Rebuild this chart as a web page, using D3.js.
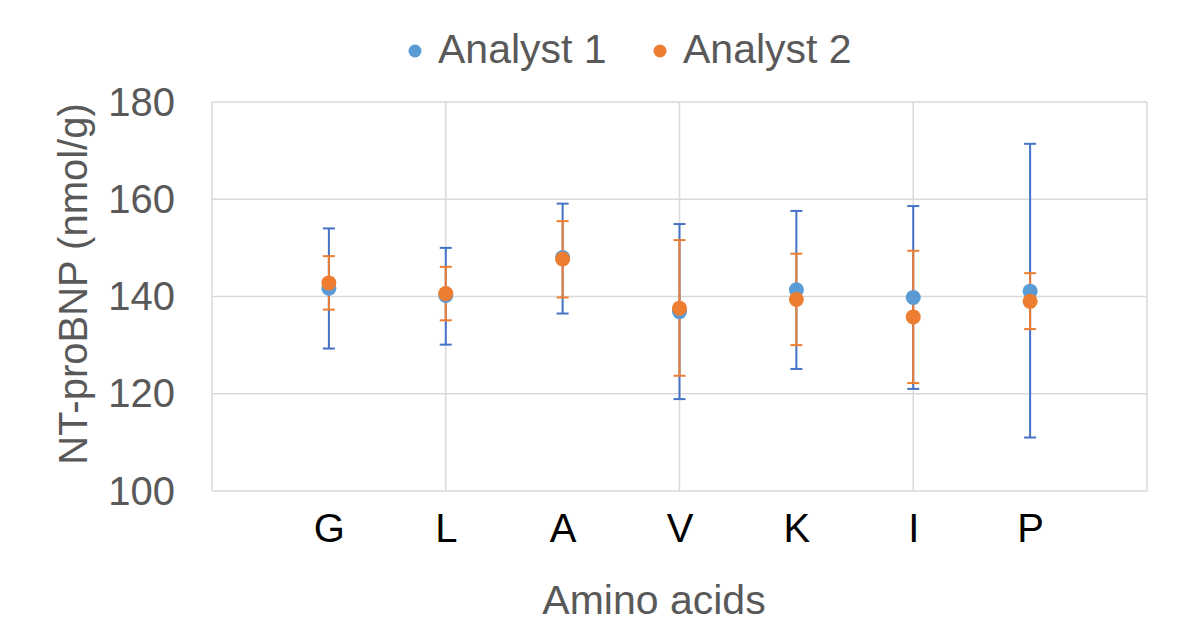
<!DOCTYPE html>
<html lang="en">
<head>
    <meta charset="UTF-8">
    <title>NT-proBNP by amino acid</title>
    <script src="https://d3js.org/d3.v7.min.js"></script>
    <style>
        body { margin: 0; background: #fff; }
        text { font-family: "Liberation Sans", Arial, sans-serif; }
    </style>
</head>
<body>
    <script>
        const categories = ["G", "L", "A", "V", "K", "I", "P"];
        const seriesNames = ["Analyst 1", "Analyst 2"];
        // mean values
        const analyst1 = [141.7, 140.2, 148.0, 136.9, 141.4, 139.8, 141.1];
        const analyst2 = [142.8, 140.6, 147.7, 137.6, 139.4, 135.8, 139.0];
        // error bar ends (low / high)
        const analyst1Low  = [129.3, 130.1, 136.5, 118.9, 125.1, 121.0, 111.0];
        const analyst1High = [154.0, 150.0, 159.1, 154.9, 157.6, 158.6, 171.4];
        const analyst2Low  = [137.3, 135.1, 139.8, 123.7, 130.0, 122.2, 133.3];
        const analyst2High = [148.3, 146.1, 155.5, 151.6, 148.8, 149.4, 144.8];
        const yTicks = [100, 120, 140, 160, 180];
        const xGrid = [0, 2, 4, 6, 8];

        const w = 1197, h = 622;
        const margin = {left: 212, right: 50, top: 102, bottom: 131};

        const svg = d3.select("body").append("svg")
            .attr("width", w)
            .attr("height", h);

        const x = d3.scaleLinear().domain([0, 8]).range([margin.left, w - margin.right]);
        const y = d3.scaleLinear().domain([100, 180]).range([h - margin.bottom, margin.top]);

        // grid
        svg.append("g").selectAll("line").data(yTicks).join("line")
            .attr("x1", x(0)).attr("x2", x(8))
            .attr("y1", d => y(d)).attr("y2", d => y(d))
            .attr("stroke", "#d9d9d9").attr("stroke-width", 1.5);
        svg.append("g").selectAll("line").data(xGrid).join("line")
            .attr("x1", d => x(d)).attr("x2", d => x(d))
            .attr("y1", y(100)).attr("y2", y(180))
            .attr("stroke", "#d9d9d9").attr("stroke-width", 1.5);

        // y axis labels
        const yAxis = d3.axisLeft(y).tickValues(yTicks).tickSize(0).tickPadding(37);
        const gy = svg.append("g").attr("transform", `translate(${margin.left},0)`).call(yAxis);
        gy.select(".domain").remove();
        gy.selectAll("text")
            .attr("font-size", 40).attr("fill", "#595959")
            .attr("font-family", "Liberation Sans, Arial, sans-serif")
            .attr("dy", "0.33em");

        // category labels
        const xAxis = d3.axisBottom(x).tickValues(d3.range(1, 8))
            .tickFormat(d => categories[d - 1]).tickSize(0).tickPadding(0);
        const gx = svg.append("g").attr("transform", `translate(0,${h - margin.bottom})`).call(xAxis);
        gx.select(".domain").remove();
        gx.selectAll("text")
            .attr("font-size", 40).attr("fill", "#000")
            .attr("font-family", "Liberation Sans, Arial, sans-serif")
            .attr("y", 51).attr("dy", 0);

        const series = [
            {name: seriesNames[0], vals: analyst1, lo: analyst1Low, hi: analyst1High, bar: "#4472c4", dot: "#5b9bd5"},
            {name: seriesNames[1], vals: analyst2, lo: analyst2Low, hi: analyst2High, bar: "#ed7d31", dot: "#ed7d31"}
        ];

        // error bars
        series.forEach(s => {
            const g = svg.append("g").attr("stroke", s.bar).attr("stroke-width", 2);
            const rows = categories.map((c, i) => ({i: i + 1, lo: s.lo[i], hi: s.hi[i]}));
            g.selectAll(".v").data(rows).join("line")
                .attr("x1", d => x(d.i)).attr("x2", d => x(d.i))
                .attr("y1", d => y(d.lo)).attr("y2", d => y(d.hi));
            g.selectAll(".capHi").data(rows).join("line").attr("class", "capHi")
                .attr("x1", d => x(d.i) - 6).attr("x2", d => x(d.i) + 6)
                .attr("y1", d => y(d.hi)).attr("y2", d => y(d.hi));
            g.selectAll(".capLo").data(rows).join("line").attr("class", "capLo")
                .attr("x1", d => x(d.i) - 6).attr("x2", d => x(d.i) + 6)
                .attr("y1", d => y(d.lo)).attr("y2", d => y(d.lo));
        });

        // markers
        series.forEach(s => {
            svg.append("g").selectAll("circle").data(s.vals).join("circle")
                .attr("cx", (d, i) => x(i + 1))
                .attr("cy", d => y(d))
                .attr("r", 7.5)
                .attr("fill", s.dot);
        });

        // legend
        const legendX = [415, 660];
        const legend = svg.append("g");
        series.forEach((s, i) => {
            legend.append("circle").attr("cx", legendX[i]).attr("cy", 51).attr("r", 6.5).attr("fill", s.dot);
            legend.append("text").attr("x", legendX[i] + 23).attr("y", 63)
                .attr("font-size", 41).attr("fill", "#595959").text(s.name);
        });

        // axis titles
        svg.append("text")
            .attr("x", 654).attr("y", 614)
            .attr("text-anchor", "middle")
            .attr("font-size", 41).attr("fill", "#595959")
            .text("Amino acids");

        svg.append("text")
            .attr("transform", "translate(87,284) rotate(-90)")
            .attr("text-anchor", "middle")
            .attr("font-size", 40).attr("fill", "#595959")
            .text("NT-proBNP (nmol/g)");
    </script>
</body>
</html>
